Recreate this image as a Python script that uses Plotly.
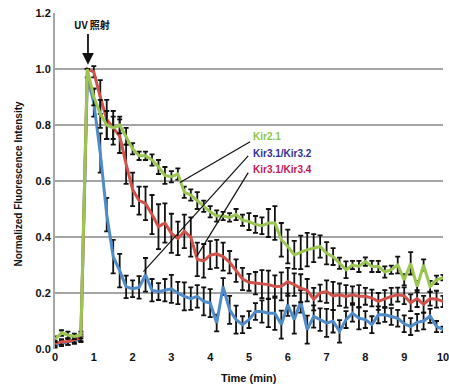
import plotly.graph_objects as go

TIME = [0.0, 0.167, 0.333, 0.5, 0.667, 0.833, 1.0, 1.167, 1.333, 1.5,
        1.667, 1.833, 2.0, 2.167, 2.333, 2.5, 2.667, 2.833, 3.0, 3.167,
        3.333, 3.5, 3.667, 3.833, 4.0, 4.167, 4.333, 4.5, 4.667, 4.833,
        5.0, 5.167, 5.333, 5.5, 5.667, 5.833, 6.0, 6.167, 6.333, 6.5,
        6.667, 6.833, 7.0, 7.167, 7.333, 7.5, 7.667, 7.833, 8.0, 8.167,
        8.333, 8.5, 8.667, 8.833, 9.0, 9.167, 9.333, 9.5, 9.667, 9.833, 10.0]

KIR21 = [0.035, 0.057, 0.05, 0.045, 0.05, 1.0, 0.9, 0.84, 0.8, 0.79,
         0.8, 0.76, 0.715, 0.69, 0.69, 0.675, 0.65, 0.62, 0.615, 0.625,
         0.56, 0.55, 0.53, 0.51, 0.49, 0.475, 0.475, 0.47, 0.48, 0.46,
         0.455, 0.445, 0.44, 0.45, 0.45, 0.39, 0.366, 0.336, 0.345, 0.355,
         0.36, 0.366, 0.342, 0.33, 0.306, 0.283, 0.3, 0.295, 0.312, 0.295,
         0.295, 0.275, 0.283, 0.3, 0.247, 0.306, 0.223, 0.3, 0.223, 0.247, 0.255]
KIR21_ERR = [0.01, 0.01, 0.012, 0.01, 0.012, 0.0, 0.03, 0.05, 0.05, 0.04,
             0.03, 0.03, 0.02, 0.015, 0.015, 0.02, 0.025, 0.03, 0.02, 0.02,
             0.02, 0.02, 0.03, 0.02, 0.02, 0.02, 0.015, 0.015, 0.02, 0.02,
             0.03, 0.03, 0.03, 0.05, 0.06, 0.06, 0.06, 0.05, 0.06, 0.06,
             0.05, 0.04, 0.04, 0.03, 0.02, 0.03, 0.015, 0.02, 0.015, 0.02,
             0.02, 0.02, 0.015, 0.03, 0.02, 0.04, 0.02, 0.02, 0.02, 0.015, 0.01]

KIR3132 = [0.015, 0.02, 0.025, 0.03, 0.035, 0.97, 0.88, 0.7, 0.48, 0.33,
           0.28, 0.222, 0.215, 0.22, 0.265, 0.21, 0.205, 0.21, 0.215, 0.2,
           0.188, 0.18, 0.188, 0.17, 0.164, 0.093, 0.223, 0.14, 0.105, 0.087,
           0.105, 0.134, 0.134, 0.128, 0.128, 0.087, 0.158, 0.105, 0.17, 0.069,
           0.116, 0.105, 0.093, 0.099, 0.063, 0.105, 0.128, 0.11, 0.105, 0.087,
           0.122, 0.122, 0.116, 0.11, 0.09, 0.08, 0.095, 0.1, 0.118, 0.08, 0.07]
KIR3132_ERR = [0.01, 0.01, 0.01, 0.012, 0.01, 0.0, 0.05, 0.07, 0.06, 0.06,
               0.06, 0.04, 0.03, 0.04, 0.06, 0.04, 0.03, 0.04, 0.05, 0.04,
               0.05, 0.04, 0.04, 0.05, 0.05, 0.03, 0.03, 0.05, 0.05, 0.03,
               0.03, 0.03, 0.04, 0.05, 0.06, 0.05, 0.04, 0.05, 0.04, 0.05,
               0.04, 0.04, 0.05, 0.04, 0.04, 0.03, 0.03, 0.04, 0.03, 0.03,
               0.03, 0.025, 0.03, 0.03, 0.03, 0.03, 0.03, 0.03, 0.025, 0.02, 0.01]

KIR3134 = [0.02, 0.025, 0.027, 0.033, 0.04, 1.0, 0.99, 0.9, 0.82, 0.79,
           0.76, 0.66, 0.57, 0.53, 0.52, 0.48, 0.437, 0.45, 0.413, 0.395,
           0.42, 0.4, 0.32, 0.315, 0.335, 0.34, 0.33, 0.31, 0.28, 0.25,
           0.238, 0.235, 0.232, 0.23, 0.223, 0.224, 0.24, 0.23, 0.217, 0.21,
           0.178, 0.2, 0.205, 0.19, 0.194, 0.188, 0.194, 0.188, 0.188, 0.182,
           0.17, 0.18, 0.188, 0.194, 0.19, 0.165, 0.18, 0.16, 0.18, 0.178, 0.17]
KIR3134_ERR = [0.01, 0.01, 0.012, 0.01, 0.012, 0.0, 0.02, 0.06, 0.07, 0.06,
               0.06, 0.07, 0.06, 0.05, 0.06, 0.07, 0.08, 0.07, 0.07, 0.06,
               0.06, 0.07, 0.06, 0.06, 0.05, 0.05, 0.05, 0.04, 0.04, 0.04,
               0.03, 0.04, 0.05, 0.05, 0.04, 0.05, 0.05, 0.04, 0.05, 0.04,
               0.04, 0.03, 0.04, 0.05, 0.04, 0.04, 0.03, 0.04, 0.03, 0.03,
               0.03, 0.03, 0.03, 0.025, 0.03, 0.03, 0.03, 0.03, 0.025, 0.03, 0.02]

X_TICKS = [0, 1, 2, 3, 4, 5, 6, 7, 8, 9, 10]
Y_TICKS = [0.0, 0.2, 0.4, 0.6, 0.8, 1.0, 1.2]
Y_TICK_TEXT = ["0.0", "0.2", "0.4", "0.6", "0.8", "1.0", "1.2"]

FONT = "Liberation Sans"
INK = "#111111"

fig = go.Figure()

def add_series(y, err, color, name):
    fig.add_trace(go.Scatter(
        x=TIME, y=y, mode="lines", name=name,
        line=dict(color=color, width=3),
        error_y=dict(type="data", array=err, visible=True,
                     color=INK, thickness=1.8, width=2.5),
    ))

add_series(KIR3132, KIR3132_ERR, "#4F8CC9", "Kir3.1/Kir3.2")
add_series(KIR3134, KIR3134_ERR, "#D0524B", "Kir3.1/Kir3.4")
add_series(KIR21, KIR21_ERR, "#9BC653", "Kir2.1")

# leader lines
leaders = [((5.03, 0.74), (3.22, 0.595)),
           ((4.98, 0.69), (2.28, 0.276)),
           ((4.98, 0.63), (3.65, 0.33))]
for (x0, y0), (x1, y1) in leaders:
    fig.add_shape(type="line", x0=x0, y0=y0, x1=x1, y1=y1,
                  line=dict(color=INK, width=1.2), layer="above")

labels = [("Kir2.1", 0.76, "#8DC63F"),
          ("Kir3.1/Kir3.2", 0.70, "#2E3192"),
          ("Kir3.1/Kir3.4", 0.64, "#C2185B")]
for txt, yy, col in labels:
    fig.add_annotation(x=5.05, y=yy, text="<b>" + txt + "</b>", showarrow=False,
                       xanchor="left", yanchor="middle",
                       font=dict(family=FONT, size=10, color=col))

# UV arrow
fig.add_annotation(x=0.85, y=1.015, ax=0.85, ay=1.13, xref="x", yref="y",
                   axref="x", ayref="y", text="", showarrow=True,
                   arrowhead=2, arrowsize=1.3, arrowwidth=1.8, arrowcolor=INK)
fig.add_annotation(x=0.95, y=1.16, text="<b>UV 照射</b>", showarrow=False,
                   xanchor="center", yanchor="middle",
                   font=dict(family="Noto Sans CJK JP", size=10, color=INK))

# axis titles
fig.add_annotation(xref="paper", yref="paper", x=0.5, y=-0.085,
                   text="<b>Time (min)</b>", showarrow=False,
                   xanchor="center", yanchor="middle",
                   font=dict(family=FONT, size=11, color=INK))
fig.add_annotation(xref="paper", yref="paper", x=-0.095, y=0.49,
                   text="<b>Normalized Fluorescence Intensity</b>", showarrow=False,
                   textangle=-90, xanchor="center", yanchor="middle",
                   font=dict(family=FONT, size=10, color=INK))

fig.update_layout(
    width=449, height=389,
    margin=dict(l=55, r=6, t=13, b=40, autoexpand=False),
    paper_bgcolor="white", plot_bgcolor="white",
    showlegend=False,
    font=dict(family=FONT, color=INK),
)
fig.update_xaxes(
    range=[0, 10], tickvals=X_TICKS, ticktext=["<b>%d</b>" % v for v in X_TICKS],
    showgrid=False, zeroline=False, showline=False, automargin=False,
    ticklabeloverflow="allow",
    tickfont=dict(family=FONT, size=11, color=INK), ticks="",
)
fig.update_yaxes(
    range=[0, 1.2], tickvals=Y_TICKS, ticktext=["<b>%s</b>" % t for t in Y_TICK_TEXT],
    showgrid=True, gridcolor="#A6A6A6", gridwidth=2, automargin=False,
    zeroline=False, showline=True, linecolor="#A6A6A6", linewidth=2,
    tickfont=dict(family=FONT, size=11, color=INK), ticks="",
)

fig.write_html(
    "out.html",
    config={"displayModeBar": False},
    post_script="document.body.style.margin='0';document.body.style.overflow='hidden';",
)
